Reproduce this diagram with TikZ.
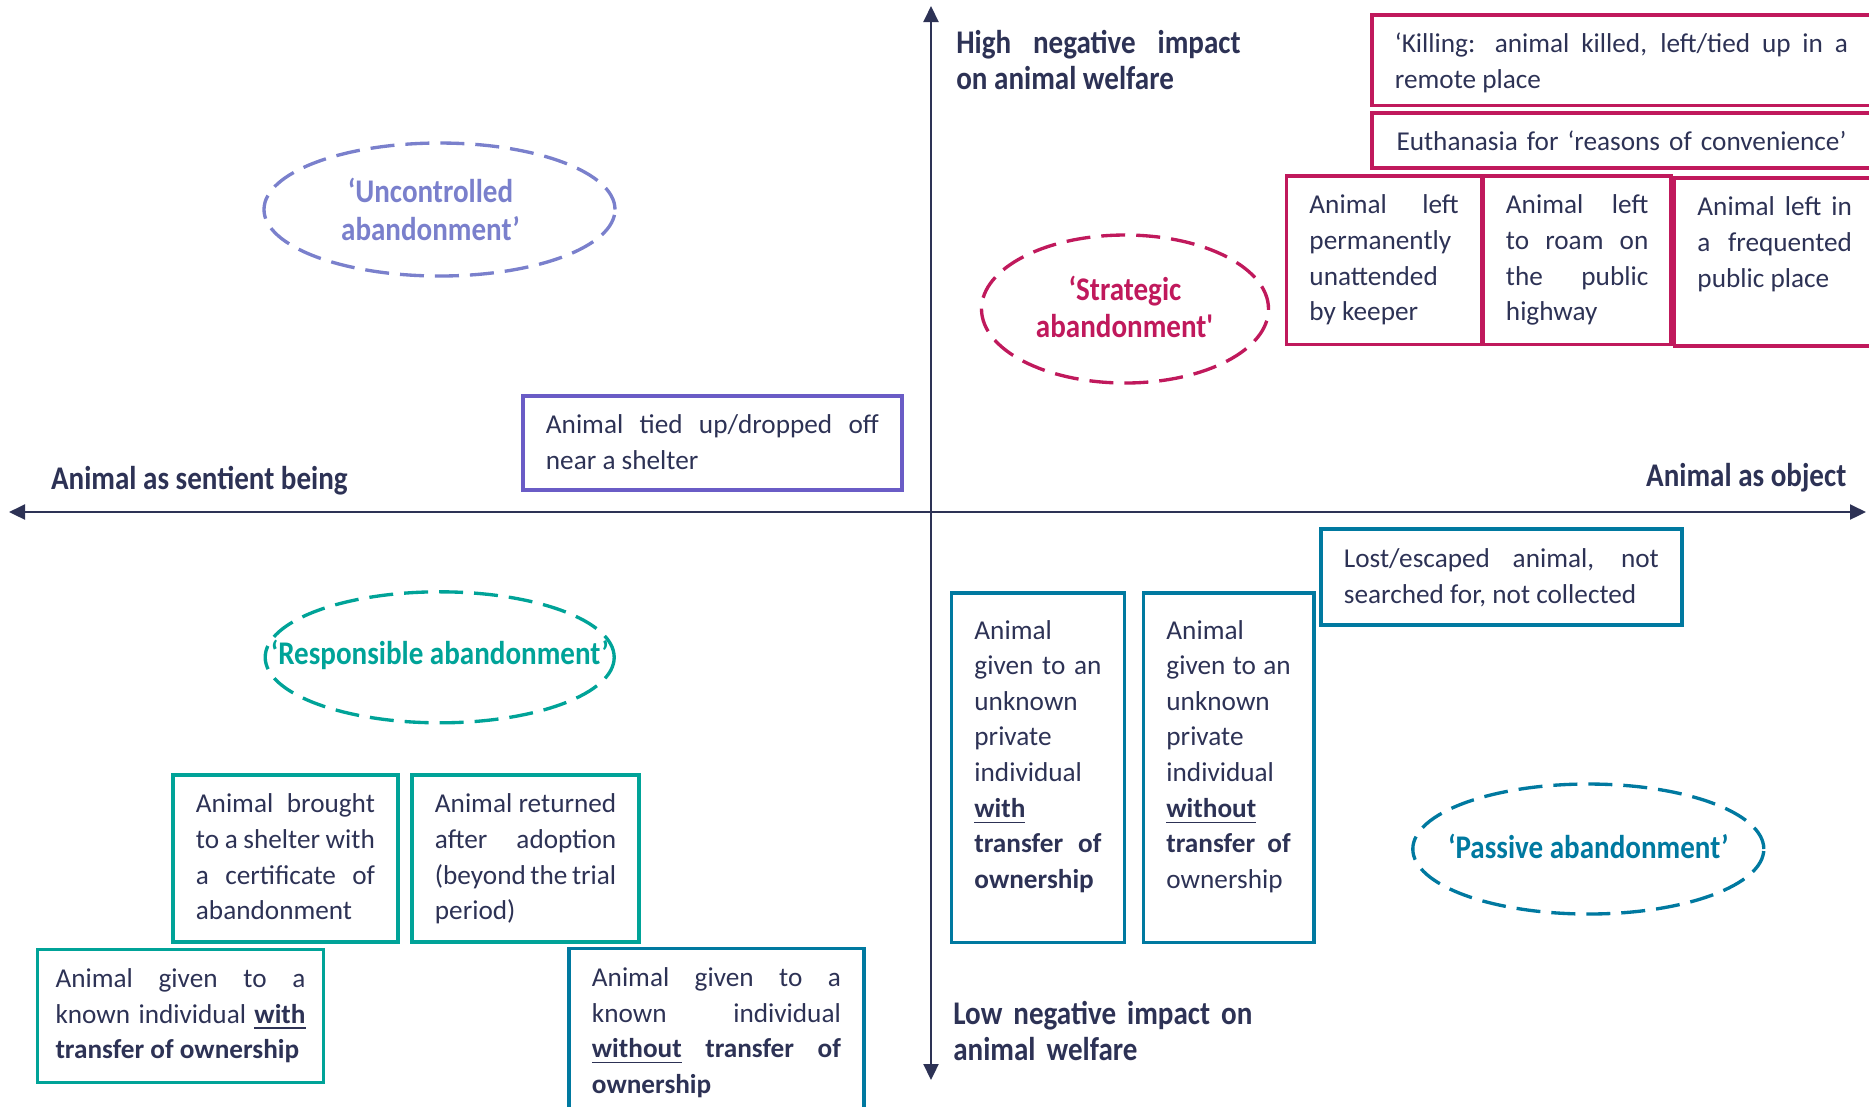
\documentclass[tikz,border=0pt]{standalone}
\usepackage{fontspec}
\setmainfont{Carlito}
\newfontfamily\headfont[FakeStretch=0.88]{Carlito}
\usetikzlibrary{arrows.meta, positioning, shapes.geometric}

\definecolor{navy}{RGB}{45,50,85}
\definecolor{carmesi}{RGB}{192,25,92}
\definecolor{turquesa}{RGB}{0,163,152}
\definecolor{petroleo}{RGB}{0,121,160}
\definecolor{lavanda}{RGB}{122,128,204}
\definecolor{violeta}{RGB}{106,92,198}

\hyphenpenalty=10000
\exhyphenpenalty=10000

\begin{document}
\begin{tikzpicture}[x=0.1mm, y=-0.1mm,
    caso/.style={draw, rectangle, line width=1.1pt, anchor=north west, inner xsep=2.3mm, inner ysep=0pt,
        text height=3.8mm, align=justify, text=navy, font=\fontsize{7.75pt}{10.13pt}\selectfont},
    tipo/.style={ellipse, draw, line width=0.95pt, dash pattern=on 2.4mm off 1.1mm, inner sep=0pt},
    etiqueta/.style={inner sep=0pt, align=center, font=\headfont\bfseries\fontsize{9.4pt}{10.7pt}\selectfont},
    titulo/.style={inner sep=0pt, text=navy, font=\headfont\bfseries\fontsize{9.4pt}{10.2pt}\selectfont},
    eje/.style={draw=navy, line width=0.6pt, >={Triangle[length=1.6mm, width=1.5mm]}, <->}]
    \useasboundingbox (0,0) rectangle (1869,1106);

    % Definir ejes
    \coordinate (izq) at (9,512);
    \coordinate (der) at (1866,512);
    \coordinate (arriba) at (931,6);
    \coordinate (abajo) at (931,1080);
    \draw[eje] (izq) -- (der);
    \draw[eje] (arriba) -- (abajo);

    % Titulos de los ejes
    \node (alto) [titulo, anchor=base west, text width=28.44mm, align=justify] at (955.6,53.3) {High negative impact\linebreak on animal welfare};
    \node (bajo) [titulo, anchor=base west, text width=31mm, align=left] at (952.6,1024.7) {Low negative impact on\\animal welfare};
    \node (sensible) [titulo, anchor=base west] at (50.4,489.3) {Animal as sentient being};
    \node (objeto) [titulo, anchor=base east] at (1847,486.7) {Animal as object};

    % Tipos de abandono
    \node (incontrolado) [tipo, draw=lavanda, minimum width=35.1mm, minimum height=13.3mm] at (439.5,209.5) {};
    \node (incontrolado-txt) [etiqueta, text=lavanda, xshift=-0.9mm] at (incontrolado) {‘Uncontrolled\\abandonment’};
    \node (estrategico) [tipo, draw=carmesi, minimum width=28.7mm, minimum height=14.8mm] at (1125,309) {};
    \node (estrategico-txt) [etiqueta, text=carmesi, yshift=0.2mm] at (estrategico) {‘Strategic\\abandonment\textquotesingle};
    \node (responsable) [tipo, draw=turquesa, minimum width=34.9mm, minimum height=13.1mm] at (439.7,657.3) {};
    \node (responsable-txt) [etiqueta, text=turquesa, anchor=base, yshift=-0.7mm] at (responsable) {‘Responsible abandonment’};
    \node (pasivo) [tipo, draw=petroleo, minimum width=35.1mm, minimum height=13mm] at (1588.3,849) {};
    \node (pasivo-txt) [etiqueta, text=petroleo, yshift=0.3mm] at (pasivo) {‘Passive abandonment’};

    % Casos estrategicos
    \node (matanza) [caso, draw=carmesi, text width=45.3mm, text depth=5.26mm] at (1370,13) {‘Killing: animal killed, left/tied up in a\linebreak remote place};
    \node (eutanasia) [caso, draw=carmesi, align=center, text width=45.3mm, text depth=1.7mm] at (1370,111) {Euthanasia for ‘reasons of convenience’};
    \node (permanente) [caso, draw=carmesi, text width=14.93mm, text depth=13.06mm] at (1284.5,174) {Animal left\linebreak permanently\linebreak unattended\linebreak by keeper};
    \node (vagar) [caso, draw=carmesi, text width=14.24mm, text depth=13.06mm] at (1481,174) {Animal left\linebreak to roam on\linebreak the public\linebreak highway};
    \node (frecuentado) [caso, draw=carmesi, text width=15.45mm, text depth=13.03mm] at (1672.5,176) {Animal left in\linebreak a frequented\linebreak public place};

    % Caso incontrolado
    \node (refugio) [caso, draw=violeta, text width=33.3mm, text depth=5.6mm] at (521,394) {Animal tied up/dropped off\linebreak near a shelter};

    % Casos responsables
    \node (certificado) [caso, draw=turquesa, text width=17.9mm, text depth=12.93mm] at (171,773) {Animal brought\linebreak to a shelter with\linebreak a certificate of\linebreak abandonment};
    \node (devuelto) [caso, draw=turquesa, text width=18.13mm, text depth=12.93mm] at (410,773) {Animal returned\linebreak after adoption\linebreak (beyond the trial\linebreak period)};
    \node (conocido-con) [caso, draw=turquesa, inner xsep=1.8mm, text width=25mm, text depth=9.5mm] at (35.6,947.5) {Animal given to a\linebreak known individual \underline{\textbf{with}}\linebreak \textbf{transfer of ownership}};

    % Casos pasivos
    \node (conocido-sin) [caso, draw=petroleo, text width=24.9mm, text depth=14mm] at (567,946.5) {Animal given to a\linebreak known individual\linebreak \underline{\textbf{without}} \textbf{transfer of}\linebreak \textbf{ownership}};
    \node (perdido) [caso, draw=petroleo, text width=31.5mm, text height=3.87mm, text depth=5.73mm] at (1319,527) {Lost/escaped animal, not\linebreak searched for, not collected};
    \node (desconocido-con) [caso, draw=petroleo, text width=12.7mm, text height=4.62mm, text depth=30.33mm] at (949.5,591) {Animal\linebreak given to an\linebreak unknown\linebreak private\linebreak individual\linebreak \underline{\textbf{with}}\linebreak \textbf{transfer of}\linebreak \textbf{ownership}};
    \node (desconocido-sin) [caso, draw=petroleo, text width=12.43mm, text height=4.62mm, text depth=30.33mm] at (1141.5,591) {Animal\linebreak given to an\linebreak unknown\linebreak private\linebreak individual\linebreak \underline{\textbf{without}}\linebreak \textbf{transfer of}\linebreak ownership};
\end{tikzpicture}
\end{document}
